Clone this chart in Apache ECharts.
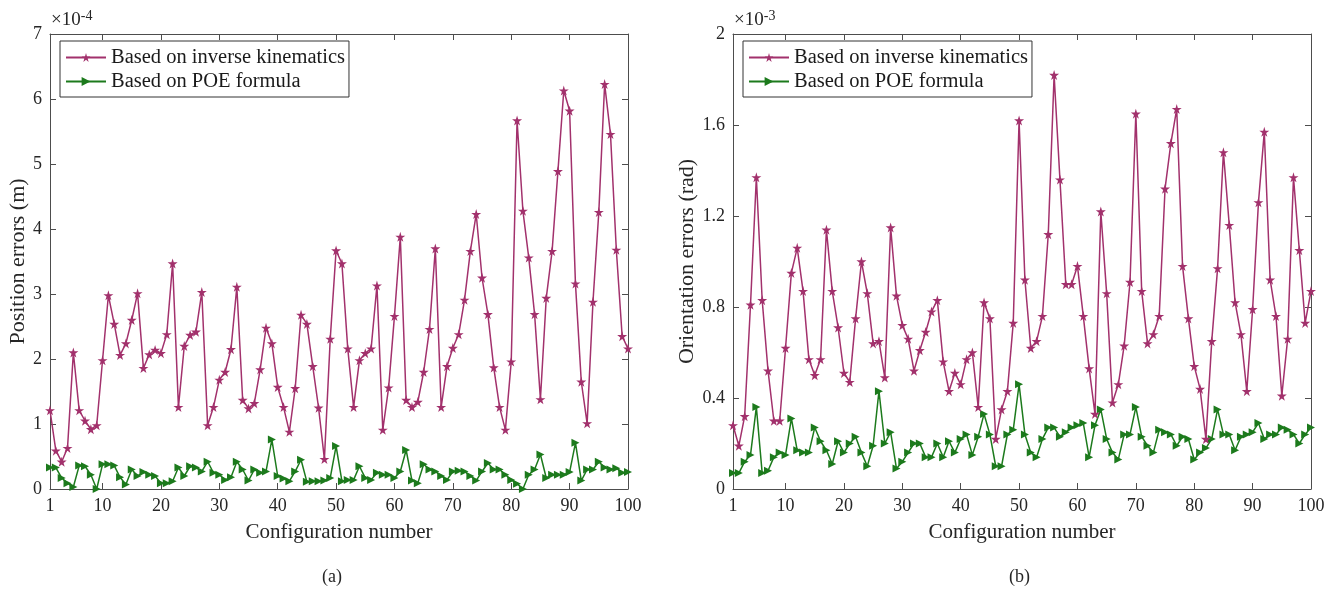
<!DOCTYPE html>
<html>
<head>
<meta charset="utf-8">
<script src="https://cdn.jsdelivr.net/npm/echarts@6/dist/echarts.min.js"></script>
<style>
  html, body { margin: 0; padding: 0; background: #fff; }
  #main { width: 1337px; height: 597px; }
</style>
</head>
<body>
<div id="main"></div>
<script>
// 位置误差 (×1e-4 m) 与 姿态误差 (×1e-3 rad)
var configs = Array.from({length: 100}, function (_, i) { return i + 1; });
var xTicks = [1, 10, 20, 30, 40, 50, 60, 70, 80, 90, 100];

var posIK = [
  1.21, 0.59, 0.42, 0.63, 2.10, 1.21, 1.05, 0.92, 0.98, 1.98,
  2.98, 2.54, 2.06, 2.24, 2.60, 3.01, 1.86, 2.07, 2.14, 2.09,
  2.38, 3.47, 1.26, 2.20, 2.37, 2.42, 3.03, 0.98, 1.26, 1.68,
  1.80, 2.15, 3.11, 1.37, 1.24, 1.32, 1.84, 2.48, 2.24, 1.57,
  1.26, 0.88, 1.55, 2.68, 2.54, 1.89, 1.25, 0.46, 2.31, 3.67,
  3.47, 2.16, 1.26, 1.98, 2.09, 2.16, 3.13, 0.91, 1.56, 2.66,
  3.88, 1.37, 1.26, 1.34, 1.80, 2.46, 3.70, 1.26, 1.89, 2.17,
  2.38, 2.91, 3.66, 4.23, 3.25, 2.69, 1.87, 1.26, 0.91, 1.96,
  5.67, 4.28, 3.56, 2.69, 1.38, 2.94, 3.66, 4.89, 6.13, 5.82,
  3.16, 1.65, 1.01, 2.88, 4.26, 6.23, 5.46, 3.68, 2.35, 2.16
];
var posPOE = [
  0.33, 0.33, 0.17, 0.09, 0.03, 0.36, 0.35, 0.22, 0.00, 0.38,
  0.38, 0.36, 0.18, 0.07, 0.30, 0.20, 0.26, 0.22, 0.20, 0.09,
  0.09, 0.12, 0.33, 0.20, 0.35, 0.33, 0.27, 0.42, 0.25, 0.22,
  0.14, 0.18, 0.42, 0.30, 0.13, 0.30, 0.25, 0.27, 0.76, 0.20,
  0.16, 0.12, 0.27, 0.45, 0.11, 0.12, 0.12, 0.13, 0.17, 0.66,
  0.12, 0.14, 0.14, 0.35, 0.17, 0.14, 0.25, 0.22, 0.22, 0.17,
  0.27, 0.60, 0.13, 0.09, 0.38, 0.30, 0.27, 0.20, 0.14, 0.27,
  0.28, 0.27, 0.20, 0.13, 0.27, 0.40, 0.30, 0.30, 0.22, 0.14,
  0.08, 0.00, 0.22, 0.30, 0.53, 0.17, 0.22, 0.22, 0.22, 0.26,
  0.71, 0.13, 0.30, 0.30, 0.42, 0.33, 0.30, 0.32, 0.25, 0.26
];
var oriIK = [
  0.28, 0.19, 0.32, 0.81, 1.37, 0.83, 0.52, 0.30, 0.30, 0.62,
  0.95, 1.06, 0.87, 0.57, 0.50, 0.57, 1.14, 0.87, 0.71, 0.51,
  0.47, 0.75, 1.00, 0.86, 0.64, 0.65, 0.49, 1.15, 0.85, 0.72,
  0.66, 0.52, 0.61, 0.69, 0.78, 0.83, 0.56, 0.43, 0.51, 0.46,
  0.57, 0.60, 0.36, 0.82, 0.75, 0.22, 0.35, 0.43, 0.73, 1.62,
  0.92, 0.62, 0.65, 0.76, 1.12, 1.82, 1.36, 0.90, 0.90, 0.98,
  0.76, 0.53, 0.33, 1.22, 0.86, 0.38, 0.46, 0.63, 0.91, 1.65,
  0.87, 0.64, 0.68, 0.76, 1.32, 1.52, 1.67, 0.98, 0.75, 0.54,
  0.44, 0.22, 0.65, 0.97, 1.48, 1.16, 0.82, 0.68, 0.43, 0.79,
  1.26, 1.57, 0.92, 0.76, 0.41, 0.66, 1.37, 1.05, 0.73, 0.87
];
var oriPOE = [
  0.07, 0.07, 0.12, 0.15, 0.36, 0.07, 0.08, 0.14, 0.16, 0.15,
  0.31, 0.17, 0.16, 0.16, 0.27, 0.21, 0.17, 0.11, 0.21, 0.16,
  0.20, 0.23, 0.16, 0.10, 0.19, 0.43, 0.20, 0.25, 0.09, 0.12,
  0.16, 0.20, 0.20, 0.14, 0.14, 0.20, 0.14, 0.21, 0.16, 0.22,
  0.24, 0.15, 0.23, 0.33, 0.24, 0.10, 0.10, 0.24, 0.26, 0.46,
  0.24, 0.16, 0.14, 0.22, 0.27, 0.27, 0.23, 0.25, 0.27, 0.28,
  0.29, 0.14, 0.28, 0.35, 0.22, 0.16, 0.13, 0.24, 0.24, 0.36,
  0.23, 0.19, 0.16, 0.26, 0.25, 0.24, 0.19, 0.23, 0.22, 0.13,
  0.16, 0.18, 0.22, 0.35, 0.24, 0.24, 0.17, 0.23, 0.24, 0.25,
  0.29, 0.22, 0.24, 0.24, 0.27, 0.26, 0.24, 0.20, 0.24, 0.27
];

var nameIK = 'Based on inverse kinematics';
var namePOE = 'Based on POE formula';
var colorIK = '#a2316c';
var colorPOE = '#1c7a1c';
var font = 'Liberation Serif';
var txt = '#262626';
var axisCol = '#4d4d4d';
var star = 'path://M50,0 L61,35 L98,35 L68,57 L79,91 L50,70 L21,91 L32,57 L2,35 L39,35 Z';

function pairs(vals) {
  return configs.map(function (c, i) { return [c, vals[i]]; });
}

function xAx(grid, pos, main) {
  return {
    type: 'value', gridIndex: grid, position: pos, min: 1, max: 100,
    name: main ? 'Configuration number' : '',
    nameLocation: 'middle', nameGap: 33,
    nameTextStyle: {fontFamily: font, fontSize: 21, color: txt},
    axisLine: {show: true, onZero: false, lineStyle: {color: axisCol, width: 1}},
    axisTick: {show: true, inside: true, length: 6, customValues: xTicks, lineStyle: {color: axisCol}},
    axisLabel: {show: main, customValues: xTicks, fontFamily: font, fontSize: 18, color: txt, margin: 8},
    splitLine: {show: false}
  };
}

function yAx(grid, pos, main, max, interval, name, gap) {
  return {
    type: 'value', gridIndex: grid, position: pos, min: 0, max: max, interval: interval,
    name: main ? name : '',
    nameLocation: 'middle', nameGap: gap,
    nameTextStyle: {fontFamily: font, fontSize: 22, color: txt},
    axisLine: {show: true, onZero: false, lineStyle: {color: axisCol, width: 1}},
    axisTick: {show: true, inside: true, length: 6, lineStyle: {color: axisCol}},
    axisLabel: {show: main, fontFamily: font, fontSize: 18, color: txt, margin: 8},
    splitLine: {show: false}
  };
}

function lineSeries(name, vals, xi, yi, isIK) {
  return {
    name: name, type: 'line', xAxisIndex: xi, yAxisIndex: yi,
    data: pairs(vals),
    symbol: isIK ? star : 'triangle',
    symbolRotate: isIK ? 0 : -90,
    symbolSize: isIK ? 10 : 8,
    showAllSymbol: true,
    lineStyle: {color: isIK ? colorIK : colorPOE, width: 1.5},
    itemStyle: {color: isIK ? colorIK : colorPOE},
    z: isIK ? 3 : 2,
    animation: false
  };
}

function legendAt(left) {
  return {
    left: left, top: 41, orient: 'vertical',
    data: [nameIK, namePOE],
    padding: [6, 4, 5, 5], itemGap: 3,
    itemWidth: 40, itemHeight: 11,
    borderColor: '#333', borderWidth: 1, backgroundColor: '#fff',
    textStyle: {fontFamily: font, fontSize: 20.5, color: '#1a1a1a', lineHeight: 21}
  };
}

function expText(left, exp) {
  return {
    type: 'text', left: left, top: 9,
    style: {
      text: '{a|×10}{b|' + exp + '}',
      rich: {
        a: {fontFamily: font, fontSize: 19, fill: txt},
        b: {fontFamily: font, fontSize: 14, fill: txt, verticalAlign: 'top', padding: [0, 0, 8, 0]}
      }
    }
  };
}

var chart = echarts.init(document.getElementById('main'));
var option = {
  backgroundColor: '#fff',
  animation: false,
  grid: [
    {left: 50, top: 34, width: 578, height: 455},
    {left: 733, top: 34, width: 578, height: 455}
  ],
  legend: [legendAt(60), legendAt(743)],
  xAxis: [
    xAx(0, 'bottom', true), xAx(0, 'top', false),
    xAx(1, 'bottom', true), xAx(1, 'top', false)
  ],
  yAxis: [
    yAx(0, 'left', true, 7, 1, 'Position errors (m)', 20),
    yAx(0, 'right', false, 7, 1, '', 0),
    yAx(1, 'left', true, 2, 0.4, 'Orientation errors (rad)', 35),
    yAx(1, 'right', false, 2, 0.4, '', 0)
  ],
  series: [
    lineSeries(nameIK, posIK, 0, 0, true),
    lineSeries(namePOE, posPOE, 0, 0, false),
    lineSeries(nameIK, oriIK, 2, 2, true),
    lineSeries(namePOE, oriPOE, 2, 2, false)
  ],
  graphic: [
    expText(51, '-4'),
    expText(734, '-3'),
    {type: 'text', left: 322, top: 568, style: {text: '(a)', fontFamily: font, fontSize: 18, fill: txt}},
    {type: 'text', left: 1009, top: 568, style: {text: '(b)', fontFamily: font, fontSize: 18, fill: txt}}
  ]
};
chart.setOption(option);
</script>
</body>
</html>
